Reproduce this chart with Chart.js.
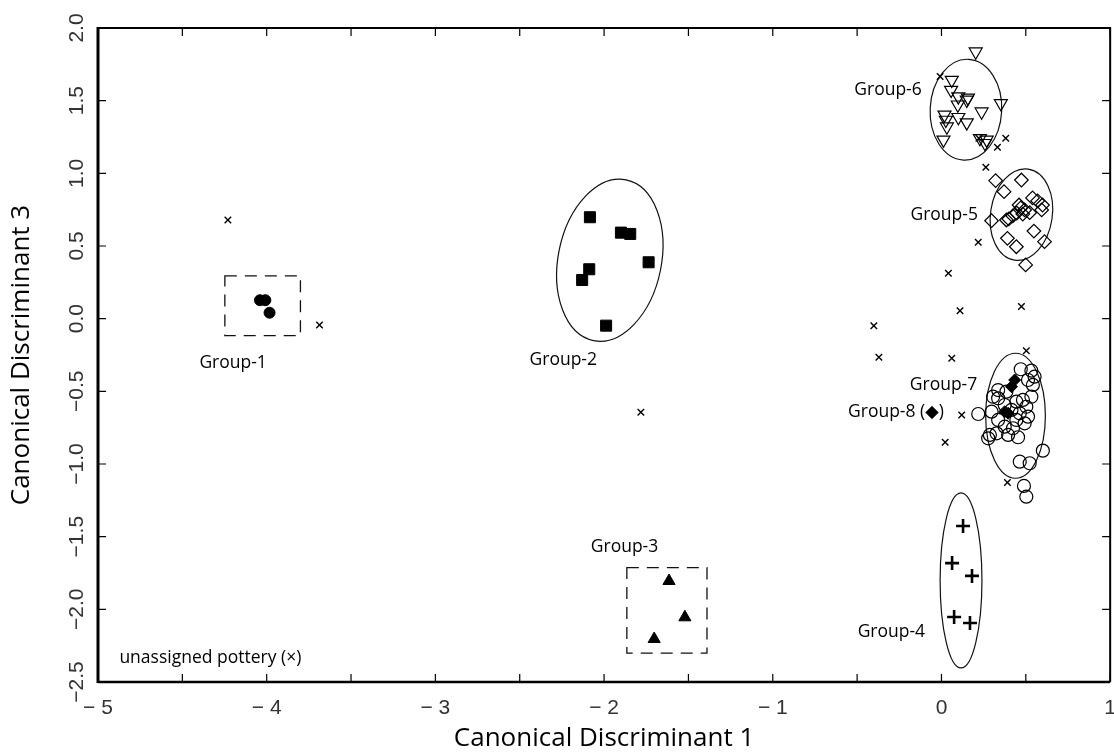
<!DOCTYPE html>
<html><head><meta charset="utf-8">
<script src="https://cdn.jsdelivr.net/npm/chart.js@4.4.1/dist/chart.umd.min.js"></script>
<style>html,body{margin:0;padding:0;overflow:hidden;background:#fff}#wrap{width:1130px;height:754px}</style>
</head><body><div id="wrap"><canvas id="c" width="1130" height="754"></canvas></div>
<script>
// ---- data (canonical discriminant scores) ----
const xRange = [-5, 1];
const yRange = [-2.5, 2.0];
const tickStep = 0.5;

const unassignedX = [-4.230, -3.687, -1.782, -0.401, 0.110, 0.474, -0.371, 0.061, 0.503, 0.120, 0.022, 0.391, -0.008, 0.222, 0.381, 0.332, 0.263, 0.218, 0.041];
const unassignedY = [0.679, -0.043, -0.644, -0.048, 0.055, 0.083, -0.266, -0.272, -0.220, -0.663, -0.850, -1.128, 1.667, 1.241, 1.241, 1.179, 1.042, 0.526, 0.312];

const g1X = [-4.040, -4.008, -3.983];
const g1Y = [0.127, 0.127, 0.041];

const g2X = [-2.084, -1.900, -1.845, -1.736, -2.088, -2.130, -1.988];
const g2Y = [0.698, 0.592, 0.583, 0.388, 0.340, 0.266, -0.048];

const g3X = [-1.615, -1.521, -1.703];
const g3Y = [-1.805, -2.055, -2.204];

const g4X = [0.128, 0.063, 0.181, 0.075, 0.169];
const g4Y = [-1.427, -1.682, -1.770, -2.053, -2.094];

const g5X = [0.321, 0.474, 0.371, 0.540, 0.570, 0.599, 0.594, 0.460, 0.470, 0.446, 0.423, 0.399, 0.482, 0.493, 0.523, 0.297, 0.385, 0.548, 0.391, 0.444, 0.611, 0.499];
const g5Y = [0.950, 0.954, 0.874, 0.831, 0.810, 0.782, 0.748, 0.782, 0.762, 0.727, 0.707, 0.686, 0.720, 0.748, 0.729, 0.674, 0.679, 0.603, 0.553, 0.495, 0.530, 0.370];

const g6X = [0.203, 0.061, 0.057, 0.100, 0.150, 0.157, 0.097, 0.352, 0.238, 0.018, 0.026, 0.100, 0.150, 0.032, 0.228, 0.268, 0.258, 0.012];
const g6Y = [1.837, 1.642, 1.573, 1.528, 1.505, 1.519, 1.472, 1.482, 1.424, 1.402, 1.367, 1.386, 1.349, 1.321, 1.241, 1.230, 1.207, 1.230];

const g7X = [0.470, 0.533, 0.552, 0.513, 0.542, 0.336, 0.385, 0.306, 0.336, 0.533, 0.444, 0.483, 0.375, 0.503, 0.297, 0.415, 0.464, 0.513, 0.218, 0.336, 0.444, 0.493, 0.424, 0.375, 0.287, 0.327, 0.395, 0.454, 0.277, 0.601, 0.464, 0.523, 0.489, 0.503];
const g7Y = [-0.348, -0.358, -0.399, -0.422, -0.456, -0.491, -0.502, -0.537, -0.548, -0.537, -0.571, -0.559, -0.594, -0.606, -0.640, -0.628, -0.651, -0.674, -0.656, -0.697, -0.697, -0.720, -0.754, -0.743, -0.800, -0.789, -0.800, -0.816, -0.823, -0.908, -0.984, -0.995, -1.151, -1.225];

const g8X = [0.434, 0.415, 0.375, 0.395];
const g8Y = [-0.422, -0.468, -0.640, -0.651];

// group ellipses (data units): centre x, centre y, semi-axis x, semi-axis y, tilt
const ellipseCX = [-1.966, 0.116, 0.474, 0.145, 0.439];
const ellipseCY = [0.402, -1.801, 0.716, 1.438, -0.668];
const ellipseRX = [0.306, 0.124, 0.183, 0.212, 0.177];
const ellipseRY = [0.564, 0.602, 0.317, 0.347, 0.430];
const ellipseTilt = [0.2, 0.0, 0.15, 0.05, 0.0];

// dashed group boxes (data units)
const boxX0 = [-4.248, -1.865];
const boxX1 = [-3.800, -1.390];
const boxY0 = [-0.117, -2.302];
const boxY1 = [0.294, -1.713];

// annotation labels
const labelText = ['Group-1', 'Group-2', 'Group-3', 'Group-4', 'Group-5', 'Group-6', 'Group-7', 'Group-8 (\u25C6)', 'unassigned pottery (\u00D7)'];
const labelX = [-4.199, -2.242, -1.879, -0.297, 0.016, -0.317, 0.012, -0.270, -4.334];
const labelY = [-0.307, -0.284, -1.569, -2.156, 0.714, 1.574, -0.456, -0.640, -2.337];

const xTitle = 'Canonical Discriminant 1';
const yTitle = 'Canonical Discriminant 3';

// ---- build ----
const pts = (xs, ys) => xs.map((x, i) => ({x, y: ys[i]}));
const K = '#000';
const datasets = [
  {data: pts(g8X, g8Y), pointStyle: 'rectRot', pointRadius: 6, backgroundColor: K, borderColor: K, borderWidth: 1},
  {data: pts(unassignedX, unassignedY), pointStyle: 'crossRot', pointRadius: 4.6, borderColor: K, borderWidth: 1.4},
  {data: pts(g1X, g1Y), pointStyle: 'circle', pointRadius: 5.5, backgroundColor: K, borderColor: K, borderWidth: 1},
  {data: pts(g2X, g2Y), pointStyle: 'rect', pointRadius: 7.8, backgroundColor: K, borderColor: K, borderWidth: 1},
  {data: pts(g3X, g3Y), pointStyle: 'triangle', pointRadius: 7, backgroundColor: K, borderColor: K, borderWidth: 1},
  {data: pts(g4X, g4Y), pointStyle: 'cross', pointRadius: 7, borderColor: K, borderWidth: 2.6},
  {data: pts(g5X, g5Y), pointStyle: 'rectRot', pointRadius: 6.8, backgroundColor: 'rgba(0,0,0,0)', borderColor: K, borderWidth: 1.2},
  {data: pts(g6X, g6Y), pointStyle: 'triangle', rotation: 180, pointRadius: 7.5, backgroundColor: 'rgba(0,0,0,0)', borderColor: K, borderWidth: 1.2},
  {data: pts(g7X, g7Y), pointStyle: 'circle', pointRadius: 6.5, backgroundColor: 'rgba(0,0,0,0)', borderColor: K, borderWidth: 1.2}
];

const fmtX = v => {
  if (Math.abs(v - Math.round(v)) > 1e-6) return '';
  const r = Math.round(v);
  return r < 0 ? '\u2212 ' + Math.abs(r) : String(r);
};
const fmtY = v => (v < 0 ? '\u2212' : '') + Math.abs(v).toFixed(1);

const decor = {
  id: 'decor',
  beforeDatasetsDraw(chart) {
    const {ctx, scales: {x, y}} = chart;
    ctx.save();
    ctx.strokeStyle = '#111';
    ctx.lineWidth = 1.2;
    ellipseCX.forEach((cx, i) => {
      const px = x.getPixelForValue(cx), py = y.getPixelForValue(ellipseCY[i]);
      const rx = Math.abs(x.getPixelForValue(cx + ellipseRX[i]) - px);
      const ry = Math.abs(y.getPixelForValue(ellipseCY[i] + ellipseRY[i]) - py);
      ctx.beginPath();
      ctx.ellipse(px, py, rx, ry, ellipseTilt[i], 0, Math.PI * 2);
      ctx.stroke();
    });
    ctx.setLineDash([12, 8]);
    ctx.lineWidth = 1.3;
    boxX0.forEach((x0, i) => {
      const a = x.getPixelForValue(x0), b = x.getPixelForValue(boxX1[i]);
      const c = y.getPixelForValue(boxY1[i]), d = y.getPixelForValue(boxY0[i]);
      ctx.strokeRect(a, c, b - a, d - c);
    });
    ctx.restore();
  },
  afterDatasetsDraw(chart) {
    const {ctx, chartArea: A, scales: {x, y}} = chart;
    ctx.save();
    // frame
    ctx.strokeStyle = '#000';
    ctx.lineWidth = 3; ctx.beginPath(); ctx.moveTo(A.left, A.top - 1); ctx.lineTo(A.left, A.bottom + 1); ctx.stroke();
    ctx.lineWidth = 2.5; ctx.beginPath(); ctx.moveTo(A.left, A.bottom); ctx.lineTo(A.right, A.bottom); ctx.stroke();
    ctx.lineWidth = 2; ctx.beginPath(); ctx.moveTo(A.left, A.top); ctx.lineTo(A.right, A.top); ctx.lineTo(A.right, A.bottom); ctx.stroke();
    // inward tick marks
    const TL = 8;
    ctx.lineWidth = 1.2;
    ctx.beginPath();
    x.ticks.forEach(t => {
      const px = x.getPixelForValue(t.value);
      ctx.moveTo(px, A.bottom); ctx.lineTo(px, A.bottom - TL);
      ctx.moveTo(px, A.top); ctx.lineTo(px, A.top + TL);
    });
    y.ticks.forEach(t => {
      const py = y.getPixelForValue(t.value);
      ctx.moveTo(A.left, py); ctx.lineTo(A.left + TL, py);
      ctx.moveTo(A.right, py); ctx.lineTo(A.right - TL, py);
    });
    ctx.stroke();
    // rotated y tick labels
    ctx.fillStyle = '#333';
    ctx.font = '21px "Liberation Sans", Arial, sans-serif';
    ctx.textAlign = 'center';
    ctx.textBaseline = 'middle';
    y.ticks.forEach(t => {
      const py = y.getPixelForValue(t.value);
      ctx.save();
      ctx.translate(A.left - 21, py);
      ctx.rotate(-Math.PI / 2);
      ctx.fillText(fmtY(t.value), 0, 0);
      ctx.restore();
    });
    // annotations
    ctx.fillStyle = '#000';
    ctx.font = '17.5px "Open Sans", "DejaVu Sans", sans-serif';
    labelText.forEach((s, i) => {
      ctx.fillText(s, x.getPixelForValue(labelX[i]), y.getPixelForValue(labelY[i]));
    });
    ctx.restore();
  }
};

new Chart(document.getElementById('c'), {
  type: 'scatter',
  data: {datasets},
  options: {
    responsive: false,
    animation: false,
    devicePixelRatio: 1,
    layout: {padding: {top: 28, right: 14, left: 0, bottom: 0}},
    plugins: {legend: {display: false}, tooltip: {enabled: false}},
    scales: {
      x: {
        type: 'linear', min: xRange[0], max: xRange[1],
        grid: {display: false, drawTicks: false},
        border: {display: false},
        ticks: {stepSize: tickStep, autoSkip: false, maxRotation: 0, padding: 14, color: '#333',
          font: {family: '"Liberation Sans", Arial, sans-serif', size: 21}, callback: fmtX},
        title: {display: true, text: xTitle, color: '#000',
          font: {family: '"Open Sans", sans-serif', size: 26, weight: '500'}, padding: {top: 0, bottom: 0}},
        afterFit: s => { s.height = 72; }
      },
      y: {
        type: 'linear', min: yRange[0], max: yRange[1],
        grid: {display: false, drawTicks: false},
        border: {display: false},
        ticks: {stepSize: tickStep, display: false},
        title: {display: true, text: yTitle, color: '#000',
          font: {family: '"Open Sans", sans-serif', size: 26, weight: '500'}, padding: {top: 6, bottom: 0}},
        afterFit: s => { s.width = 98; }
      }
    }
  },
  plugins: [decor]
});
</script></body></html>
